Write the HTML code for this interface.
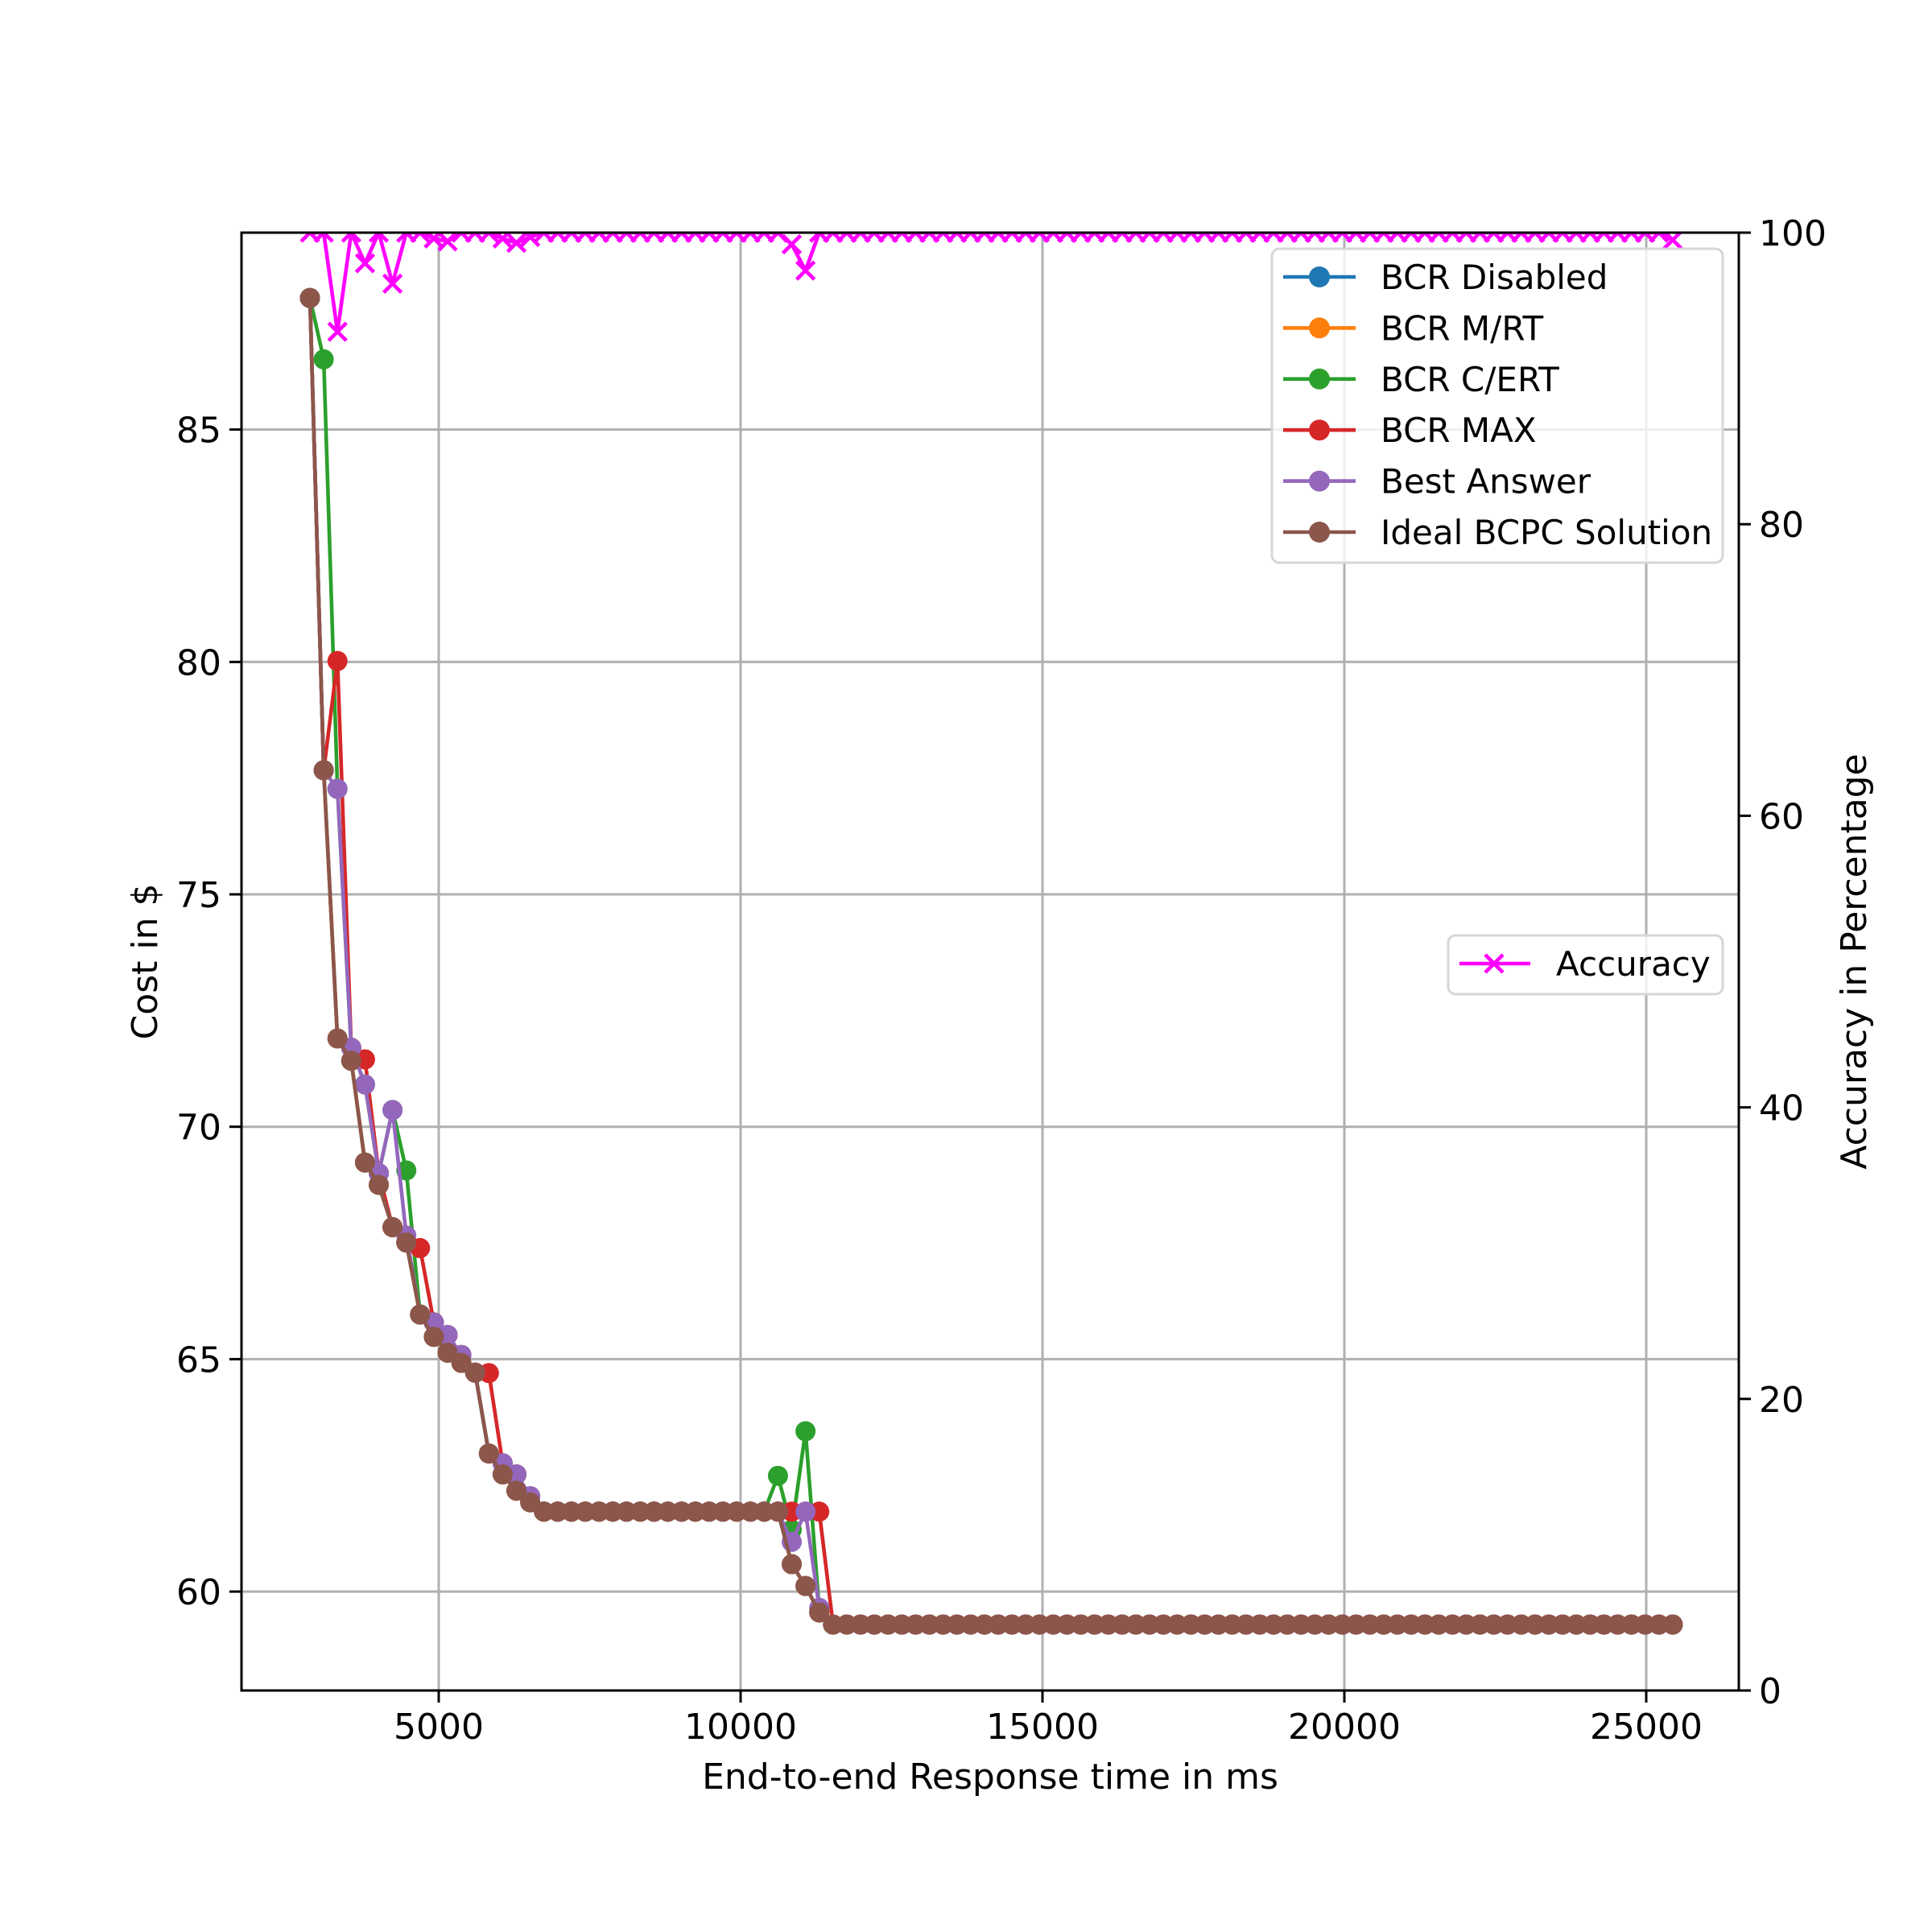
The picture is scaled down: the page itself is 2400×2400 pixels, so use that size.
<!DOCTYPE html>
<html><head><meta charset="utf-8"><style>
html,body{margin:0;padding:0;background:#fff;}
svg{display:block;font-family:"DejaVu Sans","Liberation Sans",sans-serif;}
</style></head><body>
<svg id="chart" width="2400" height="2400" viewBox="0 0 2400 2400" xmlns="http://www.w3.org/2000/svg">
<rect width="2400" height="2400" fill="#fff"/>
<defs><clipPath id="plotclip"><rect x="300" y="289" width="1860" height="1811"/></clipPath></defs>
<g id="grid"></g><g id="series" clip-path="url(#plotclip)"></g><g id="axes"></g><g id="legends"></g>
</svg>
<script>
const xValues = [2867,3095,3323,3551,3779,4007,4235,4463,4691,4919,5147,5375,5603,5831,6059,6287,6515,6743,6971,7199,7427,7655,7883,8111,8339,8567,8795,9023,9251,9479,9707,9935,10163,10391,10619,10847,11075,11303,11531,11759,11987,12215,12443,12671,12899,13127,13355,13583,13811,14039,14267,14495,14723,14951,15179,15407,15635,15863,16091,16319,16547,16775,17003,17231,17459,17687,17915,18143,18371,18599,18827,19055,19283,19511,19739,19967,20195,20423,20651,20879,21107,21335,21563,21791,22019,22247,22475,22703,22931,23159,23387,23615,23843,24071,24299,24527,24755,24983,25211,25439];
const idealValues = [87.83,77.67,71.90,71.42,69.23,68.75,67.84,67.51,65.96,65.48,65.14,64.92,64.71,62.97,62.52,62.17,61.92,61.72,61.72,61.72,61.72,61.72,61.72,61.72,61.72,61.72,61.72,61.72,61.72,61.72,61.72,61.72,61.72,61.72,61.72,60.59,60.12,59.55,59.29,59.29,59.29,59.29,59.29,59.29,59.29,59.29,59.29,59.29,59.29,59.29,59.29,59.29,59.29,59.29,59.29,59.29,59.29,59.29,59.29,59.29,59.29,59.29,59.29,59.29,59.29,59.29,59.29,59.29,59.29,59.29,59.29,59.29,59.29,59.29,59.29,59.29,59.29,59.29,59.29,59.29,59.29,59.29,59.29,59.29,59.29,59.29,59.29,59.29,59.29,59.29,59.29,59.29,59.29,59.29,59.29,59.29,59.29,59.29,59.29,59.29];
const disabledValues = idealValues.slice();
const mrtValues = idealValues.slice();
const bestValues = [87.83,77.67,77.27,71.70,70.91,69.00,70.36,67.66,65.96,65.79,65.52,65.09,64.71,62.97,62.76,62.52,62.05,61.72,61.72,61.72,61.72,61.72,61.72,61.72,61.72,61.72,61.72,61.72,61.72,61.72,61.72,61.72,61.72,61.72,61.72,61.07,61.72,59.65,59.29,59.29,59.29,59.29,59.29,59.29,59.29,59.29,59.29,59.29,59.29,59.29,59.29,59.29,59.29,59.29,59.29,59.29,59.29,59.29,59.29,59.29,59.29,59.29,59.29,59.29,59.29,59.29,59.29,59.29,59.29,59.29,59.29,59.29,59.29,59.29,59.29,59.29,59.29,59.29,59.29,59.29,59.29,59.29,59.29,59.29,59.29,59.29,59.29,59.29,59.29,59.29,59.29,59.29,59.29,59.29,59.29,59.29,59.29,59.29,59.29,59.29];
const certValues = [87.83,86.51,77.27,71.70,70.91,69.00,70.36,69.06,65.96,65.79,65.52,65.09,64.71,62.97,62.76,62.52,62.05,61.72,61.72,61.72,61.72,61.72,61.72,61.72,61.72,61.72,61.72,61.72,61.72,61.72,61.72,61.72,61.72,61.72,62.49,61.33,63.45,59.60,59.29,59.29,59.29,59.29,59.29,59.29,59.29,59.29,59.29,59.29,59.29,59.29,59.29,59.29,59.29,59.29,59.29,59.29,59.29,59.29,59.29,59.29,59.29,59.29,59.29,59.29,59.29,59.29,59.29,59.29,59.29,59.29,59.29,59.29,59.29,59.29,59.29,59.29,59.29,59.29,59.29,59.29,59.29,59.29,59.29,59.29,59.29,59.29,59.29,59.29,59.29,59.29,59.29,59.29,59.29,59.29,59.29,59.29,59.29,59.29,59.29,59.29];
const maxValues = [87.83,77.67,80.02,71.70,71.45,69.00,67.84,67.51,67.39,65.79,65.52,65.09,64.71,64.70,62.76,62.52,62.05,61.72,61.72,61.72,61.72,61.72,61.72,61.72,61.72,61.72,61.72,61.72,61.72,61.72,61.72,61.72,61.72,61.72,61.72,61.72,61.72,61.72,59.29,59.29,59.29,59.29,59.29,59.29,59.29,59.29,59.29,59.29,59.29,59.29,59.29,59.29,59.29,59.29,59.29,59.29,59.29,59.29,59.29,59.29,59.29,59.29,59.29,59.29,59.29,59.29,59.29,59.29,59.29,59.29,59.29,59.29,59.29,59.29,59.29,59.29,59.29,59.29,59.29,59.29,59.29,59.29,59.29,59.29,59.29,59.29,59.29,59.29,59.29,59.29,59.29,59.29,59.29,59.29,59.29,59.29,59.29,59.29,59.29,59.29];
const accuracyValues = [100,100,93.2,100,97.9,100,96.5,100,100,99.6,99.4,100,100,100,99.6,99.3,99.7,100,100,100,100,100,100,100,100,100,100,100,100,100,100,100,100,100,100,99.2,97.4,100,100,100,100,100,100,100,100,100,100,100,100,100,100,100,100,100,100,100,100,100,100,100,100,100,100,100,100,100,100,100,100,100,100,100,100,100,100,100,100,100,100,100,100,100,100,100,100,100,100,100,100,100,100,100,100,100,100,100,100,100,100,99.5];
const xTicks = [5000,10000,15000,20000,25000];
const yTicks = [60,65,70,75,80,85];
const y2Ticks = [0,20,40,60,80,100];
const seriesNames = ["BCR Disabled","BCR M/RT","BCR C/ERT","BCR MAX","Best Answer","Ideal BCPC Solution"];

const NS="http://www.w3.org/2000/svg";
const L=300,R=2160,T=289,B=2100;
function xs(v){return 170+0.075*v;}
function ys(v){return 822.3-(v-80)*57.74;}
function y2s(v){return B-(B-T)*v/100;}
function mk(tag,attrs,parent){const e=document.createElementNS(NS,tag);for(const k in attrs)e.setAttribute(k,attrs[k]);parent.appendChild(e);return e;}
const grid=document.getElementById('grid'),ser=document.getElementById('series'),axes=document.getElementById('axes'),leg=document.getElementById('legends');

xTicks.forEach(t=>{const l=mk('line',{x1:xs(t),x2:xs(t),y1:T,y2:B,stroke:'#b0b0b0','stroke-width':3},grid);

});
yTicks.forEach(t=>{const l=mk('line',{x1:L,x2:R,y1:ys(t),y2:ys(t),stroke:'#b0b0b0','stroke-width':3},grid);

});

const colors=['#1f77b4','#ff7f0e','#2ca02c','#d62728','#9467bd','#8c564b'];
const allSeries=[disabledValues,mrtValues,certValues,maxValues,bestValues,idealValues];
const slugs=['bcr-disabled','bcr-mrt','bcr-cert','bcr-max','best-answer','ideal-bcpc'];
allSeries.forEach((vals,si)=>{
  const g=mk('g',{},ser);
  
  
  const pts=vals.map((v,i)=>xs(xValues[i])+','+ys(v)).join(' ');
  const pl=mk('polyline',{points:pts,fill:'none',stroke:colors[si],'stroke-width':4.6,'stroke-linejoin':'round'},g);
  
  
  vals.forEach((v,i)=>{const c=mk('circle',{cx:xs(xValues[i]),cy:ys(v),r:12.5,fill:colors[si]},g);
  
  });
});
{
  const g=mk('g',{},ser);
  
  
  const pts=accuracyValues.map((v,i)=>xs(xValues[i])+','+y2s(v)).join(' ');
  const pl=mk('polyline',{points:pts,fill:'none',stroke:'#ff00ff','stroke-width':4.6,'stroke-linejoin':'round'},g);
  
  
  accuracyValues.forEach((v,i)=>{const cx=xs(xValues[i]),cy=y2s(v),s=11;
    const p=mk('path',{d:`M${cx-s},${cy-s}L${cx+s},${cy+s}M${cx-s},${cy+s}L${cx+s},${cy-s}`,stroke:'#ff00ff','stroke-width':4.6,fill:'none'},g);
    
    });
}
const frame=mk('rect',{x:L,y:T,width:R-L,height:B-T,fill:'none',stroke:'#000','stroke-width':3},axes);


const FS=44;
xTicks.forEach(t=>{mk('line',{x1:xs(t),x2:xs(t),y1:B,y2:B+15,stroke:'#000','stroke-width':3},axes);
  const tx=mk('text',{x:xs(t),y:B+60,'font-size':FS,'text-anchor':'middle'},axes);tx.textContent=t;
  
  });
yTicks.forEach(t=>{mk('line',{x1:L-15,x2:L,y1:ys(t),y2:ys(t),stroke:'#000','stroke-width':3},axes);
  const tx=mk('text',{x:L-25,y:ys(t)+16,'font-size':FS,'text-anchor':'end'},axes);tx.textContent=t;
  
  });
y2Ticks.forEach(t=>{mk('line',{x1:R,x2:R+15,y1:y2s(t),y2:y2s(t),stroke:'#000','stroke-width':3},axes);
  const tx=mk('text',{x:R+25,y:y2s(t)+16,'font-size':FS,'text-anchor':'start'},axes);tx.textContent=t;
  
  });
const xl=mk('text',{x:(L+R)/2,y:2222,'font-size':FS,'text-anchor':'middle'},axes);xl.textContent='End-to-end Response time in ms';


const yl=mk('text',{x:0,y:0,'font-size':FS,'text-anchor':'middle',transform:`translate(195,${(T+B)/2}) rotate(-90)`},axes);yl.textContent='Cost in $';


const y2l=mk('text',{x:0,y:0,'font-size':FS,'text-anchor':'middle',transform:`translate(2318,${(T+B)/2}) rotate(-90)`},axes);y2l.textContent='Accuracy in Percentage';



const LF=42;
const lb=mk('rect',{x:1580,y:309,width:560,height:390,rx:9,fill:'#fff','fill-opacity':0.8,stroke:'#d6d6d6','stroke-width':3},leg);


seriesNames.forEach((n,i)=>{const y=344+63.4*i;const g=mk('g',{},leg);
  
  
  mk('line',{x1:1594,x2:1684,y1:y,y2:y,stroke:colors[i],'stroke-width':4.6},g);
  mk('circle',{cx:1639,cy:y,r:13,fill:colors[i]},g);
  const t=mk('text',{x:1715,y:y+15,'font-size':LF},g);t.textContent=n;});
const lb2=mk('rect',{x:1799,y:1162,width:341,height:73,rx:9,fill:'#fff','fill-opacity':0.8,stroke:'#d6d6d6','stroke-width':3},leg);


{const g=mk('g',{},leg);
 
 
 const y=1197;
 mk('line',{x1:1813,x2:1901,y1:y,y2:y,stroke:'#ff00ff','stroke-width':4.6},g);
 mk('path',{d:`M1845,${y-11}L1867,${y+11}M1845,${y+11}L1867,${y-11}`,stroke:'#ff00ff','stroke-width':4.6},g);
 const t=mk('text',{x:1933,y:y+15,'font-size':LF},g);t.textContent='Accuracy';}
</script>
</body></html>
